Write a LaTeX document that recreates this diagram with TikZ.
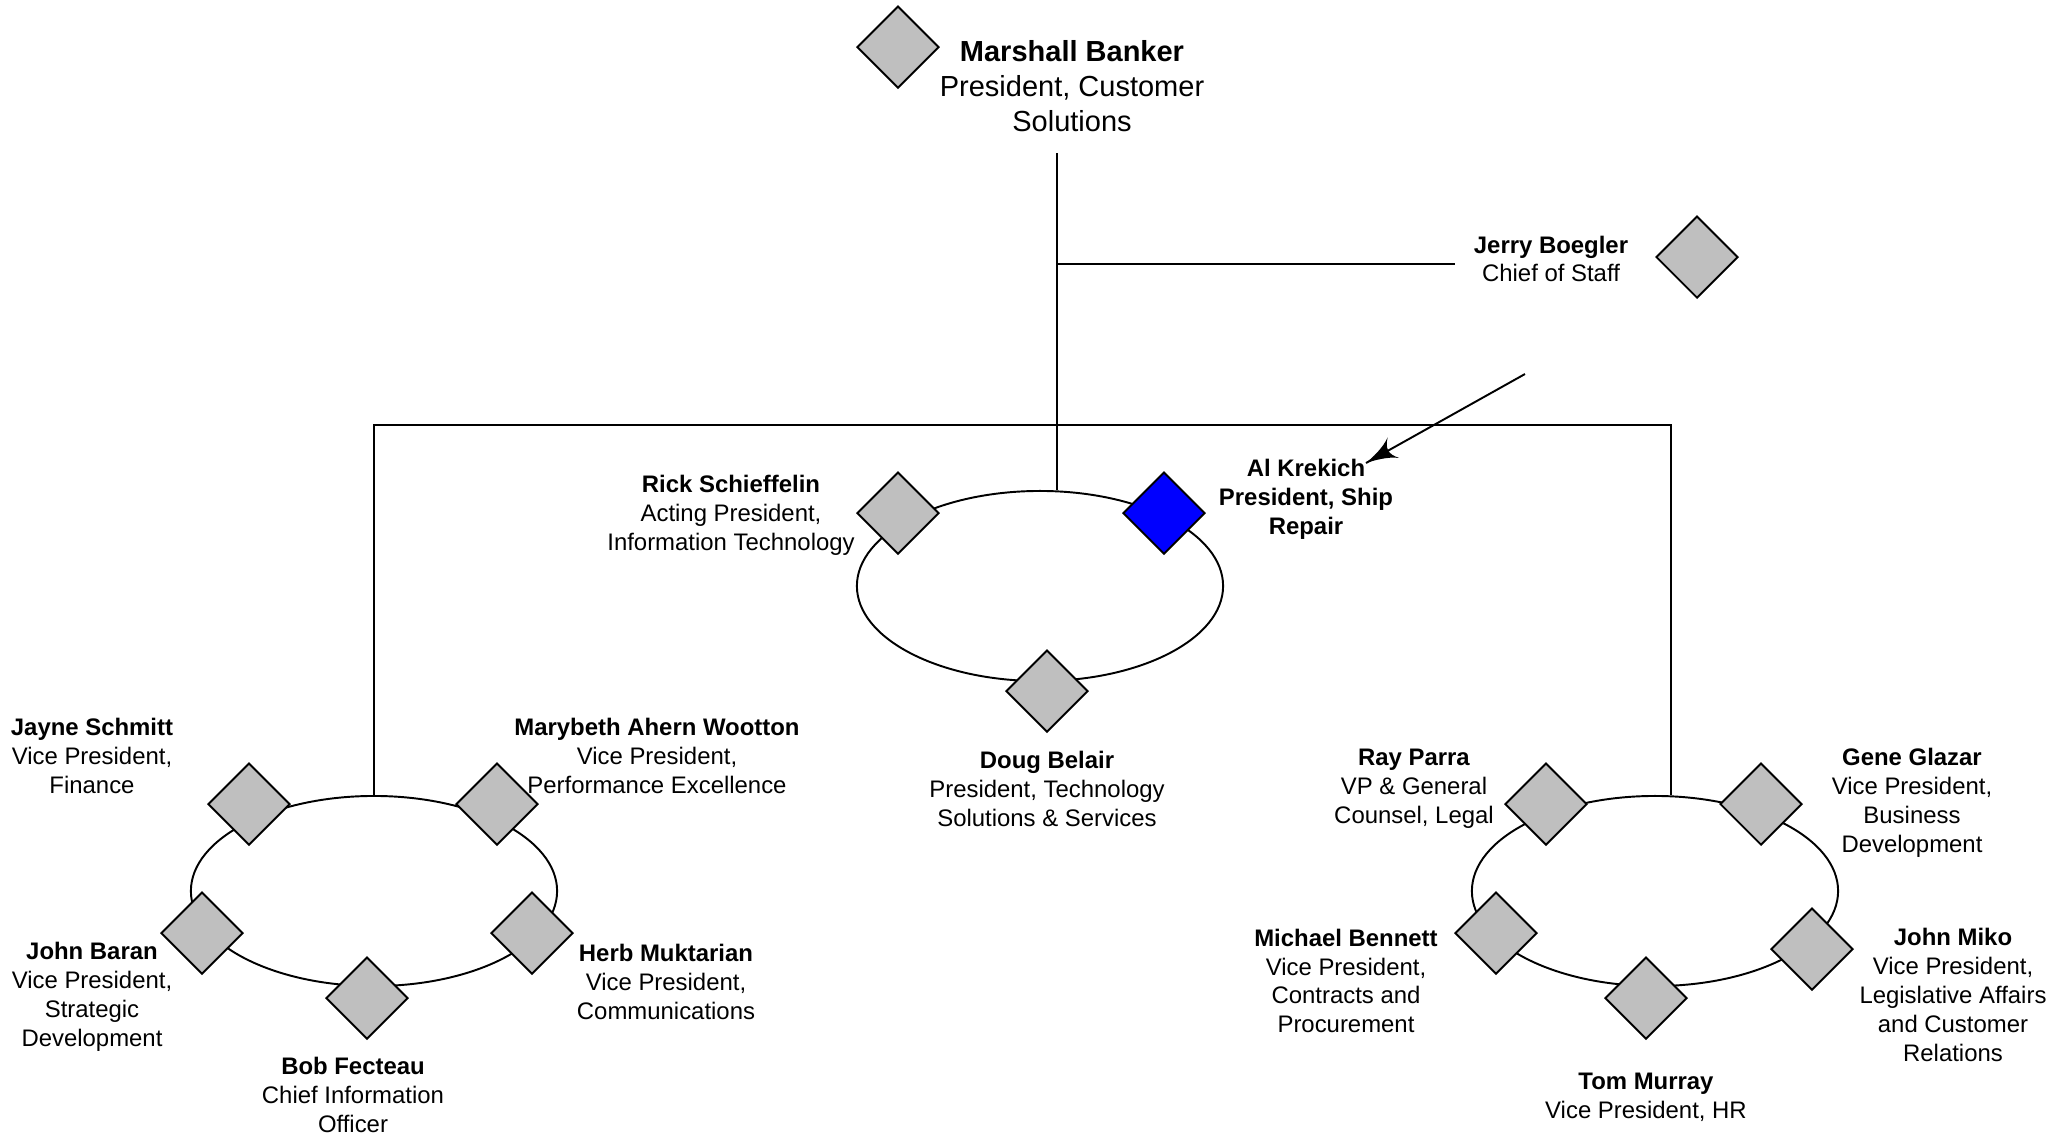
\documentclass[tikz,border=0pt]{standalone}
\usepackage{fontspec}
\setmainfont{Liberation Sans}
\usetikzlibrary{arrows}
\usetikzlibrary{decorations.markings}
\usetikzlibrary{shapes.geometric}
\tikzset{gem/.style = {draw, diamond, fill=mgray, inner sep=0pt,
                       minimum width=8.2mm, minimum height=8.2mm},
         ring/.style = {draw, ellipse, minimum width=36.6mm, minimum height=19mm},
         who/.style = {align=center, inner sep=0pt, yshift=-0.3mm,
                       font=\fontsize{6.8}{8.2}\selectfont},
         boss/.style = {align=center, inner sep=0pt, font=\fontsize{8.25}{9.96}\selectfont},
         headto/.style = {decoration={markings,
                                      mark=at position 1 with {\arrow[scale=2]{latex'}}},
                          postaction={decorate}}}
\definecolor{mgray}{rgb}{0.75, 0.75, 0.75}
\definecolor{mblue}{rgb}{0, 0, 1}

\begin{document}
\begin{tikzpicture}[x=0.01cm, y=-0.01cm, line width=0.55pt]
    \useasboundingbox (0, 0) rectangle (2053, 1135);

    \node [ring] (core) at (1040, 586) {};
    \node [ring] (west) at (374, 891) {};
    \node [ring] (east) at (1655, 891) {};

    \coordinate (trunk) at (1057, 153);
    \coordinate (staff) at (1455, 264);
    \coordinate (bus) at (1671, 425);
    \draw (trunk) -- (trunk |- core.north);
    \draw (trunk |- staff) -- (staff);
    \draw (west.north) |- (bus) -- (bus |- east.north);

    \foreach \n/\x/\y in {marshall/898/47, jerry/1697/257, rick/898/513, doug/1047/691,
                          jayne/249/804, marybeth/497/804, baran/202/933, herb/532/933, bob/367/998,
                          ray/1546/804, gene/1761/804, bennett/1496/933, miko/1812/949, tom/1646/998}
      \node [gem] (\n) at (\x, \y) {};
    \node [gem, fill=mblue] (al) at (1164, 513) {};

    \node [boss] (marshall txt) at (1072, 86) {\textbf{Marshall Banker}\\President, Customer\\Solutions};
    \node [who] (jerry txt) at (1551, 256) {\textbf{Jerry Boegler}\\Chief of Staff};
    \node [who] (rick txt) at (731, 512) {\textbf{Rick Schieffelin}\\Acting President,\\Information Technology};
    \node [who] (al txt) at (1306, 496) {\textbf{Al Krekich}\\\textbf{President, Ship}\\\textbf{Repair}};
    \node [who] (doug txt) at (1047, 786) {\textbf{Doug Belair}\\President, Technology\\Solutions \& Services};

    \node [who] (jayne txt) at (92, 753) {\textbf{Jayne Schmitt}\\Vice President,\\Finance};
    \node [who] (marybeth txt) at (657, 753) {\textbf{Marybeth Ahern Wootton}\\Vice President,\\Performance Excellence};
    \node [who] (baran txt) at (92, 994) {\textbf{John Baran}\\Vice President,\\Strategic\\Development};
    \node [who] (herb txt) at (666, 979) {\textbf{Herb Muktarian}\\Vice President,\\Communications};
    \node [who] (bob txt) at (353, 1092) {\textbf{Bob Fecteau}\\Chief Information\\Officer};

    \node [who] (ray txt) at (1414, 786) {\textbf{Ray Parra}\\VP \& General\\Counsel, Legal};
    \node [who] (gene txt) at (1912, 800) {\textbf{Gene Glazar}\\Vice President,\\Business\\Development};
    \node [who] (bennett txt) at (1346, 978) {\textbf{Michael Bennett}\\Vice President,\\Contracts and\\Procurement};
    \node [who] (miko txt) at (1953, 992) {\textbf{John Miko}\\Vice President,\\Legislative Affairs\\and Customer\\Relations};
    \node [who] (tom txt) at (1646, 1094) {\textbf{Tom Murray}\\Vice President, HR};

    \coordinate (cos) at (1525, 374);
    \coordinate (alhead) at (1366, 463);
    \draw [headto] (cos) -- (alhead);
\end{tikzpicture}
\end{document}
